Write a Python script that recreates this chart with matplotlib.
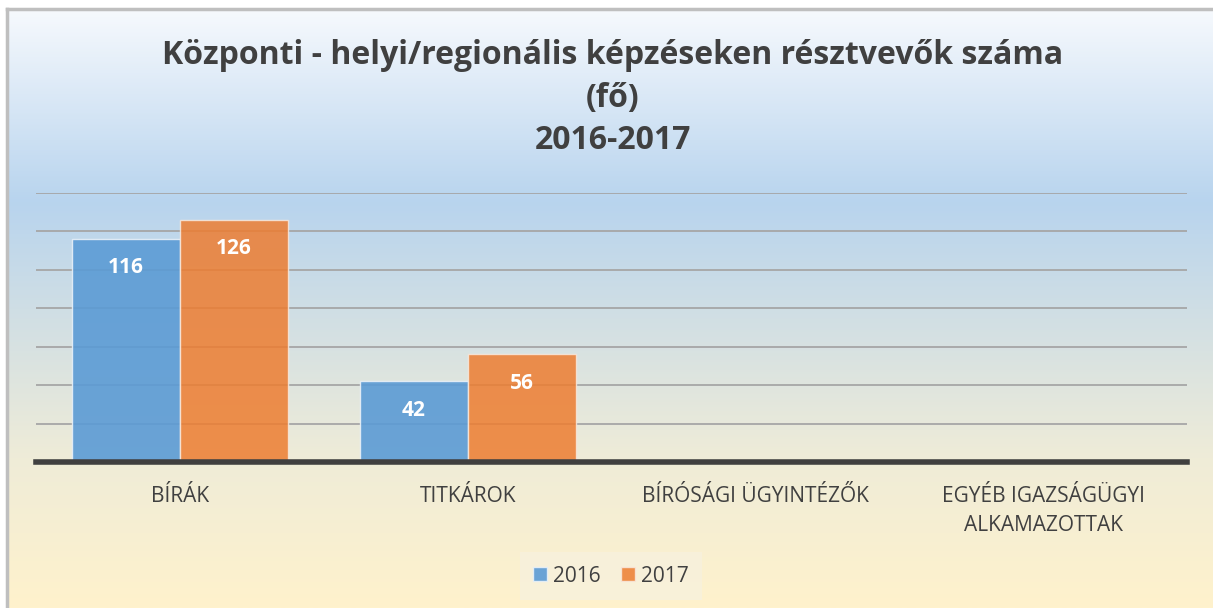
import numpy as np
import matplotlib.pyplot as plt
from matplotlib.colors import LinearSegmentedColormap
from matplotlib.patches import Patch

categories = ['BÍRÁK', 'TITKÁROK', 'BÍRÓSÁGI ÜGYINTÉZŐK', 'EGYÉB IGAZSÁGÜGYI\nALKAMAZOTTAK']
years = ['2016', '2017']
values_2016 = [116, 42, np.nan, np.nan]
values_2017 = [126, 56, np.nan, np.nan]

plt.rcParams['font.family'] = ['Open Sans', 'DejaVu Sans']
text_color = '#404040'

fig = plt.figure(figsize=(12.13, 6.08), dpi=100)
fig.patch.set_facecolor('white')

# gradient background of the chart area
bg = fig.add_axes([8 / 1213, 0, 1 - 8 / 1213, 1 - 10 / 608])
bg.set_axis_off()
cmap = LinearSegmentedColormap.from_list('bg', [(0, '#f6f9fd'), (0.32, '#b8d4ee'),
                                                (0.75, '#efecd8'), (1, '#fff2cc')])
grad = np.linspace(0, 1, 256).reshape(-1, 1)
bg.imshow(grad, aspect='auto', cmap=cmap, extent=[0, 1, 0, 1], origin='upper')
bg.set_xlim(0, 1)
bg.set_ylim(0, 1)
fig.add_artist(plt.Line2D([7 / 1213, 1], [1 - 9 / 608] * 2, color='#bfbfbf', lw=2.5))
fig.add_artist(plt.Line2D([7 / 1213] * 2, [0, 1 - 9 / 608], color='#bfbfbf', lw=2.5))

ax = fig.add_axes([36 / 1213, 1 - 462 / 608, (1187 - 36) / 1213, (462 - 193) / 608])
ax.patch.set_alpha(0)

x = np.arange(len(categories))
w = 0.375
b1 = ax.bar(x - w / 2, values_2016, w, color='#5B9BD5', alpha=0.9,
            edgecolor='#e8f0f8', linewidth=1, zorder=3)
b2 = ax.bar(x + w / 2, values_2017, w, color='#ED7D31', alpha=0.85,
            edgecolor='#f8e8dc', linewidth=1, zorder=3)

for bars, vals in [(b1, values_2016), (b2, values_2017)]:
    for rect, v in zip(bars, vals):
        if np.isnan(v):
            continue
        ax.text(rect.get_x() + rect.get_width() / 2, v - 15, f'{v:.0f}',
                ha='center', va='center', color='white', fontsize=15,
                fontweight='bold', zorder=4)

ax.set_xlim(-0.5, len(categories) - 0.5)
ax.set_ylim(0, 140)
ax.set_yticks(np.arange(0, 141, 20))
ax.yaxis.grid(True, color='#a6a6a6', linewidth=1.3, zorder=0)
ax.tick_params(axis='y', left=False, labelleft=False)
ax.tick_params(axis='x', bottom=False, pad=14, labelsize=15, labelcolor=text_color)
ax.set_xticks(x)
ax.set_xticklabels(categories, linespacing=1.45, va='top')
for side in ['top', 'right', 'left']:
    ax.spines[side].set_visible(False)
ax.spines['bottom'].set_color('#404040')
ax.spines['bottom'].set_linewidth(4)
ax.spines['bottom'].set_zorder(5)

fig.text(0.505, 1 - 98 / 608,
         'Központi - helyi/regionális képzéseken résztvevők száma\n(fő)\n2016-2017',
         ha='center', va='center', fontsize=23, fontweight='bold',
         color=text_color, linespacing=1.38)

handles = [Patch(facecolor='#5B9BD5', alpha=0.9, edgecolor='#e8f0f8'),
           Patch(facecolor='#ED7D31', alpha=0.85, edgecolor='#f8e8dc')]
leg = fig.legend(handles, years, loc='center', bbox_to_anchor=(611 / 1213, 1 - 576 / 608),
                 ncol=2, frameon=True, fontsize=15, handlelength=0.65, handleheight=0.65,
                 handletextpad=0.3, columnspacing=1.0, borderpad=0.35)
leg.get_frame().set_facecolor('#f7f1dd')
leg.get_frame().set_edgecolor('none')
leg.get_frame().set_boxstyle('square')
for t in leg.get_texts():
    t.set_color(text_color)

fig.savefig('out.png', dpi=100, facecolor=fig.get_facecolor())
